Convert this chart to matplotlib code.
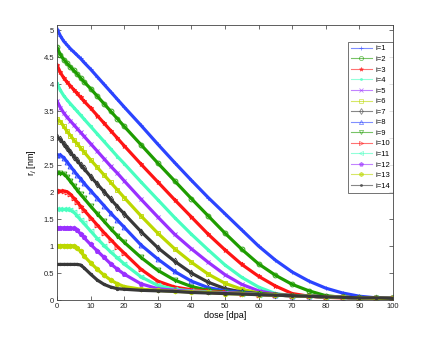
import matplotlib
matplotlib.use('Agg')
import matplotlib.pyplot as plt
from matplotlib.lines import Line2D
from matplotlib.ticker import MultipleLocator, FormatStrFormatter

plt.rcParams['font.family'] = ['Liberation Sans', 'DejaVu Sans']

# dose grid [dpa]
dose = [0, 1, 2, 3, 4, 5, 6, 7, 8, 10, 12, 14, 16, 18, 20, 25, 30, 35, 40,
        45, 50, 55, 60, 65, 70, 75, 80, 85, 90, 95, 100]

# radius r_j [nm] for each i
r1 = [5.03, 4.90, 4.80, 4.73, 4.66, 4.60, 4.54, 4.48, 4.41, 4.28, 4.14, 4.00, 3.86, 3.72, 3.58, 3.24, 2.89, 2.55, 2.22, 1.90, 1.60, 1.30, 1.00, 0.74, 0.52, 0.35, 0.22, 0.13, 0.07, 0.04, 0.03]
r2 = [4.69, 4.55, 4.46, 4.39, 4.32, 4.26, 4.19, 4.12, 4.05, 3.92, 3.78, 3.64, 3.50, 3.36, 3.22, 2.88, 2.54, 2.21, 1.88, 1.56, 1.24, 0.94, 0.67, 0.46, 0.29, 0.17, 0.08, 0.05, 0.04, 0.03, 0.03]
r3 = [4.36, 4.22, 4.12, 4.04, 3.97, 3.90, 3.83, 3.76, 3.69, 3.56, 3.42, 3.28, 3.14, 3.00, 2.86, 2.52, 2.19, 1.86, 1.54, 1.22, 0.93, 0.66, 0.44, 0.26, 0.12, 0.07, 0.05, 0.04, 0.04, 0.03, 0.03]
r4 = [4.02, 3.89, 3.79, 3.71, 3.64, 3.57, 3.50, 3.43, 3.36, 3.22, 3.08, 2.94, 2.80, 2.66, 2.53, 2.19, 1.86, 1.53, 1.22, 0.93, 0.65, 0.42, 0.24, 0.12, 0.08, 0.07, 0.06, 0.05, 0.04, 0.03, 0.03]
r5 = [3.69, 3.57, 3.47, 3.39, 3.32, 3.25, 3.18, 3.11, 3.04, 2.90, 2.76, 2.62, 2.48, 2.35, 2.21, 1.87, 1.54, 1.22, 0.95, 0.70, 0.47, 0.29, 0.17, 0.11, 0.08, 0.07, 0.06, 0.05, 0.04, 0.03, 0.03]
r6 = [3.35, 3.31, 3.22, 3.13, 3.05, 2.97, 2.90, 2.82, 2.75, 2.60, 2.46, 2.32, 2.18, 2.04, 1.90, 1.56, 1.24, 0.95, 0.70, 0.48, 0.31, 0.20, 0.13, 0.10, 0.08, 0.07, 0.06, 0.05, 0.04, 0.03, 0.03]
r7 = [3.02, 2.98, 2.90, 2.82, 2.74, 2.66, 2.59, 2.51, 2.44, 2.29, 2.15, 2.01, 1.87, 1.73, 1.60, 1.27, 0.97, 0.72, 0.50, 0.33, 0.21, 0.15, 0.12, 0.10, 0.08, 0.07, 0.06, 0.05, 0.04, 0.03, 0.03]
r8 = [2.69, 2.69, 2.64, 2.56, 2.48, 2.40, 2.32, 2.25, 2.17, 2.03, 1.89, 1.75, 1.61, 1.48, 1.35, 1.02, 0.76, 0.53, 0.35, 0.23, 0.17, 0.14, 0.11, 0.09, 0.08, 0.07, 0.06, 0.05, 0.04, 0.03, 0.03]
r9 = [2.35, 2.35, 2.34, 2.28, 2.20, 2.12, 2.04, 1.96, 1.89, 1.74, 1.60, 1.46, 1.32, 1.19, 1.07, 0.79, 0.55, 0.37, 0.25, 0.18, 0.15, 0.13, 0.11, 0.09, 0.08, 0.07, 0.06, 0.05, 0.04, 0.03, 0.03]
r10 = [2.02, 2.02, 2.02, 2.01, 1.96, 1.89, 1.82, 1.74, 1.67, 1.53, 1.39, 1.25, 1.12, 0.99, 0.87, 0.57, 0.35, 0.24, 0.19, 0.16, 0.14, 0.12, 0.10, 0.09, 0.08, 0.07, 0.06, 0.05, 0.04, 0.03, 0.03]
r11 = [1.68, 1.68, 1.68, 1.68, 1.67, 1.63, 1.56, 1.49, 1.42, 1.28, 1.14, 1.01, 0.89, 0.78, 0.67, 0.43, 0.27, 0.20, 0.17, 0.15, 0.13, 0.12, 0.10, 0.09, 0.08, 0.07, 0.06, 0.05, 0.04, 0.03, 0.03]
r12 = [1.34, 1.34, 1.34, 1.34, 1.34, 1.33, 1.29, 1.23, 1.16, 1.03, 0.91, 0.79, 0.67, 0.57, 0.48, 0.30, 0.21, 0.18, 0.16, 0.14, 0.13, 0.12, 0.10, 0.09, 0.08, 0.07, 0.06, 0.05, 0.04, 0.03, 0.03]
r13 = [1.01, 1.01, 1.01, 1.01, 1.01, 1.00, 0.97, 0.90, 0.82, 0.69, 0.57, 0.46, 0.37, 0.30, 0.25, 0.20, 0.18, 0.16, 0.15, 0.14, 0.12, 0.11, 0.10, 0.09, 0.08, 0.07, 0.06, 0.05, 0.04, 0.03, 0.03]
r14 = [0.66, 0.66, 0.66, 0.66, 0.66, 0.66, 0.66, 0.65, 0.60, 0.48, 0.37, 0.29, 0.24, 0.21, 0.20, 0.18, 0.17, 0.16, 0.14, 0.13, 0.12, 0.11, 0.10, 0.09, 0.08, 0.07, 0.06, 0.05, 0.04, 0.04, 0.03]

series = [r1, r2, r3, r4, r5, r6, r7, r8, r9, r10, r11, r12, r13, r14]
labels = ['i=%d' % (k + 1) for k in range(14)]

palette = ['#2b44ff', '#1e9c00', '#ff1414', '#48ffc0', '#9a30ff', '#bcd800', '#383838']
markers = ['+', 'o', '*', '.', 'x', 's', 'd', '^', 'v', '>', '<', 'p', 'h', '.']

fig = plt.figure(figsize=(4.36, 3.39), dpi=100)
ax = fig.add_axes([0.1307, 0.115, 0.7706, 0.8112])

handles = []
for k, r in enumerate(series):
    c = palette[k % 7]
    hollow = markers[k] in 'osd^v><'
    ax.plot(dose, r, color=c, lw=2.3, marker=markers[k], ms=3.5,
            mew=0.6, mfc='none' if hollow else c)
    handles.append(Line2D([], [], color=c, lw=0.8, alpha=0.6, marker=markers[k],
                          ms=3, mew=0.6, mec=c, mfc='none' if hollow else c))

ax.set_xlim(0, 100)
ax.set_ylim(0, 5.1)
ax.xaxis.set_major_locator(MultipleLocator(10))
ax.yaxis.set_major_locator(MultipleLocator(0.5))
ax.yaxis.set_major_formatter(FormatStrFormatter('%g'))
ax.tick_params(direction='in', length=3, width=0.5, labelsize=5.5,
               top=True, right=True, pad=2, colors='#333333', labelcolor='#222222')
for s in ax.spines.values():
    s.set_linewidth(0.6)
    s.set_color('#444444')

ax.set_xlabel('dose [dpa]', fontsize=6.5, labelpad=1)
ax.set_ylabel('r$_j$ [nm]', fontsize=6.5, labelpad=3)

leg = ax.legend(handles, labels, loc='upper right', bbox_to_anchor=(1.0, 0.938),
                fontsize=5.5, frameon=True, fancybox=False, borderaxespad=0,
                handlelength=2.8, handletextpad=0.4, labelspacing=0.42,
                borderpad=0.4)
leg.get_frame().set_edgecolor('#333333')
leg.get_frame().set_linewidth(0.6)

fig.savefig('out.png', dpi=100)
